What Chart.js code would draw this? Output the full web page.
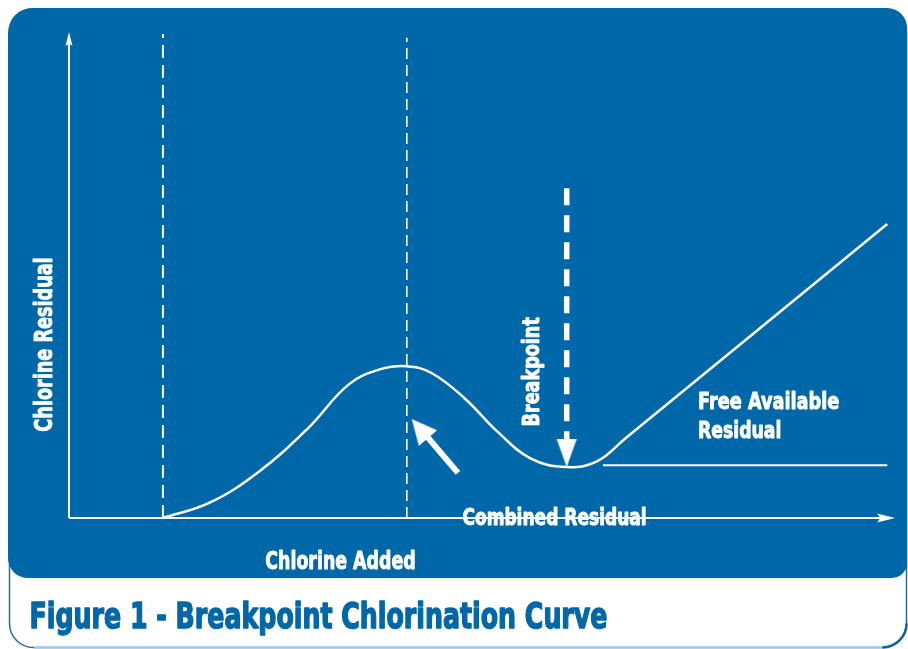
<!DOCTYPE html>
<html>
<head>
<meta charset="utf-8">
<script src="https://cdn.jsdelivr.net/npm/chart.js@4.4.1/dist/chart.umd.min.js"></script>
<style>
  html, body { margin: 0; padding: 0; background: #fff; }
  canvas { display: block; }
</style>
</head>
<body>
<canvas id="chart" width="908" height="649"></canvas>
<script>
// x = chlorine added, y = chlorine residual (arbitrary units 0..100)
// the flat start (0..11.4) lies on the x axis
const curveX = [11.4, 17, 23, 29, 34, 38, 41, 44, 48, 52, 56, 60.4, 64, 67.5, 99.3];
const curveY = [0, 3.1, 9.5, 18.5, 27.6, 30.8, 31.3, 29.9, 24.7, 17.8, 12.3, 10.5, 11.6, 16.4, 60.6];

// combined residual level after the breakpoint
const combinedX = [64.8, 99.3];
const combinedY = [10.9, 10.9];

// dashed guide lines
const guide1X = 11.4, guide1Top = 99.8;
const guide2X = 41.0, guide2Top = 99.0;

// breakpoint marker (top of shaft, base of head, tip)
const breakX = 60.4;
const breakY = [68.0, 16.1, 10.5];

// arrow pointing at the peak: tail, base of head, tip
const peakArrowX = [47.2, 43.2, 41.6];
const peakArrowY = [9.3, 17.3, 20.4];

// axis ends
const axisMaxX = 100.25;
const axisMaxY = 100.2;

const BLUE = '#0067a9';
const FONT = '"Liberation Sans Narrow", "DejaVu Sans Condensed", Roboto, "Liberation Sans", sans-serif';

const pts = (xs, ys) => xs.map((x, i) => ({ x: x, y: ys[i] }));

function makeHead(len, half, notch) {
    const c = document.createElement('canvas');
    const s = Math.ceil(len * 2 + 4);
    c.width = s; c.height = s;
    const g = c.getContext('2d');
    const m = s / 2;
    g.fillStyle = '#fff';
    g.beginPath();
    g.moveTo(m, m);
    g.lineTo(m + half, m + len);
    g.lineTo(m, m + len * (1 - notch));
    g.lineTo(m - half, m + len);
    g.closePath();
    g.fill();
    return c;
}

const heads = [makeHead(14, 3.5, 0.2), makeHead(18, 4.5, 0.2), makeHead(28, 10, 0), makeHead(25, 12, 0)];

function fitText(ctx, text, x, y, width, size, rot, color, heavy) {
    ctx.save();
    ctx.font = 'bold ' + size + 'px ' + FONT;
    ctx.fillStyle = color || '#fff';
    ctx.strokeStyle = color || '#fff';
    ctx.lineWidth = heavy;
    ctx.lineJoin = 'round';
    ctx.textBaseline = 'alphabetic';
    ctx.textAlign = 'left';
    const w = ctx.measureText(text).width;
    ctx.translate(x, y);
    if (rot) ctx.rotate(rot);
    ctx.scale(width / (w + heavy), 1);
    ctx.fillText(text, heavy / 2, 0);
    ctx.strokeText(text, heavy / 2, 0);
    ctx.restore();
}

// in-plot labels, anchored in data units
const noteText = ['Combined Residual', 'Free Available', 'Residual', 'Breakpoint'];
const noteX = [47.7, 76.3, 76.3, 57.0];
const noteY = [-1.44, 22.5, 16.5, 18.8];
const noteW = [185, 142, 84, 110];
const noteRot = [0, 0, 0, -Math.PI / 2];

const framePlugin = {
    id: 'frame',
    beforeDraw(chart) {
        const ctx = chart.ctx;
        ctx.save();
        ctx.fillStyle = '#fff';
        ctx.fillRect(0, 0, chart.width, chart.height);
        // outer border
        ctx.beginPath();
        ctx.roundRect(9.5, 9, 897, 638.5, [22, 22, 24, 24]);
        ctx.strokeStyle = '#1f6fae';
        ctx.lineWidth = 1.5;
        ctx.stroke();
        ctx.beginPath();
        ctx.moveTo(34, 647.5);
        ctx.lineTo(882, 647.5);
        ctx.strokeStyle = '#9ccbea';
        ctx.lineWidth = 2;
        ctx.stroke();
        ctx.beginPath();
        ctx.arc(882.5, 623.5, 24, 0, Math.PI / 2);
        ctx.strokeStyle = '#0a63a6';
        ctx.lineWidth = 2.5;
        ctx.stroke();
        // blue panel
        ctx.beginPath();
        ctx.roundRect(8, 8, 899, 570, [25, 20, 15, 20]);
        ctx.fillStyle = BLUE;
        ctx.fill();
        ctx.restore();
    },
    afterDatasetsDraw(chart) {
        const ctx = chart.ctx;
        const sx = chart.scales.x, sy = chart.scales.y;
        noteText.forEach((t, i) => {
            fitText(ctx, t, sx.getPixelForValue(noteX[i]), sy.getPixelForValue(noteY[i]), noteW[i], 23.5, noteRot[i], '#fff', 0.9);
        });
        fitText(ctx, 'Chlorine Residual', 52, 432, 175, 24.5, -Math.PI / 2, '#fff', 0.9);
        fitText(ctx, 'Chlorine Added', 265, 569, 151, 24, 0, '#fff', 0.9);
        fitText(ctx, 'Figure 1 - Breakpoint Chlorination Curve', 29, 628, 579, 35.5, 0, BLUE, 1.4);
    }
};

const line = (data, width, dash) => ({
    data: data, showLine: true, borderColor: '#fff', borderWidth: width,
    borderDash: dash || [], pointRadius: 0, clip: false
});

new Chart(document.getElementById('chart'), {
    type: 'scatter',
    data: {
        datasets: [
            {
                data: [
                    { x: 0, y: axisMaxY },
                    { x: axisMaxX, y: 0 },
                    { x: breakX, y: breakY[2] },
                    { x: peakArrowX[2], y: peakArrowY[2] }
                ],
                pointStyle: heads, rotation: [0, 90, 180, -40.4],
                pointRadius: 6, showLine: false, clip: false
            },
            line(pts([0, 0], [0, axisMaxY - 1]), 2),
            line(pts([0, axisMaxX - 1], [0, 0]), 2),
            line(pts([guide1X, guide1X], [0, guide1Top]), 2, [13, 7]),
            line(pts([guide2X, guide2X], [0, guide2Top]), 1.5, [11, 6]),
            Object.assign(line(pts(curveX, curveY), 2.5), { tension: 0.4 }),
            line(pts(combinedX, combinedY), 2),
            line(pts([breakX, breakX], [breakY[0], breakY[1]]), 5.5, [17, 10]),
            line(pts(peakArrowX.slice(0, 2), peakArrowY.slice(0, 2)), 6)
        ]
    },
    options: {
        responsive: false,
        animation: false,
        events: [],
        layout: { padding: { left: 69, right: 15, top: 33, bottom: 131 } },
        scales: {
            x: { type: 'linear', min: 0, max: 100, display: false },
            y: { type: 'linear', min: 0, max: 100, display: false }
        },
        plugins: { legend: { display: false }, tooltip: { enabled: false } }
    },
    plugins: [framePlugin]
});
</script>
</body>
</html>
